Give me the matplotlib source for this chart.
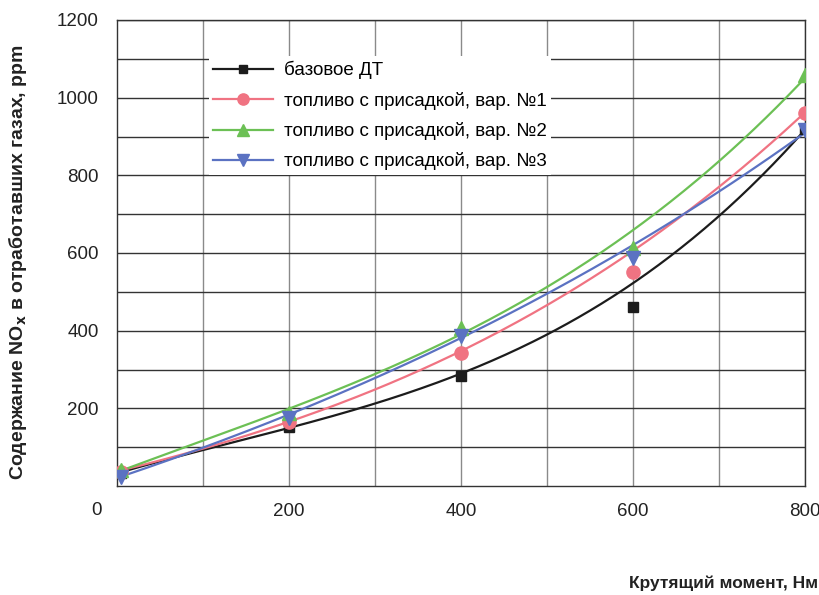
import numpy as np
import matplotlib.pyplot as plt

plt.rcParams['font.family'] = ['Liberation Sans Narrow', 'Liberation Sans', 'DejaVu Sans']

# measured points
torque = [5, 200, 400, 600, 800]
nox_base = [33, 152, 282, 461, 920]
nox_v1 = [35, 165, 343, 550, 961]
nox_v2 = [42, 187, 406, 612, 1058]
nox_v3 = [22, 175, 385, 588, 916]

# trend curves
trend_x = [5, 100, 200, 300, 400, 500, 600, 700, 800]
trend_base = [38, 87, 152, 216, 288, 390, 518, 700, 916]
trend_v1 = [40, 96, 165, 253, 348, 463, 592, 790, 955]
trend_v2 = [45, 109, 193, 296, 397, 514, 648, 839, 1052]
trend_v3 = [27, 98, 173, 288, 382, 500, 613, 757, 912]

labels = ['базовое ДТ',
          'топливо с присадкой, вар. №1',
          'топливо с присадкой, вар. №2',
          'топливо с присадкой, вар. №3']
series = [nox_base, nox_v1, nox_v2, nox_v3]
trends = [trend_base, trend_v1, trend_v2, trend_v3]
colors = ['#1c1c1c', '#f07382', '#6cc055', '#5b72c2']
markers = ['s', 'o', '^', 'v']
msizes = [7.5, 9.5, 9.5, 9.5]

fig = plt.figure(figsize=(8.2, 5.95), dpi=100)
ax = fig.add_axes([117/820, 1 - 486/595, (805 - 117)/820, (486 - 20)/595])

xs = np.linspace(trend_x[0], trend_x[-1], 300)
handles = []
for y, t, c, m, ms, lab in zip(series, trends, colors, markers, msizes, labels):
    p = np.polyfit(trend_x, t, 3)
    ax.plot(xs, np.polyval(p, xs), color=c, lw=1.6, zorder=3)
    ax.plot(torque, y, ls='none', marker=m, ms=ms, color=c, zorder=4)
    h, = ax.plot([], [], color=c, lw=1.6, marker=m, ms=ms * 0.85)
    handles.append(h)

ax.set_xlim(0, 800)
ax.set_ylim(0, 1200)
ax.set_xticks([200, 400, 600, 800])
ax.set_yticks([200, 400, 600, 800, 1000, 1200])
ax.set_xticks(np.arange(100, 800, 100), minor=True)
ax.set_yticks(np.arange(100, 1200, 100), minor=True)
ax.grid(axis='y', which='both', color='#333333', lw=1)
ax.grid(axis='x', which='both', color='#8a8a8a', lw=1)
ax.tick_params(which='both', length=0, labelsize=13.5, colors='#222222')
ax.tick_params(axis='x', pad=12)
ax.tick_params(axis='y', pad=13)
for s in ax.spines.values():
    s.set_color('#333333')
    s.set_linewidth(1)
ax.set_axisbelow(True)

ax.text(-24, -62, '0', ha='center', va='center', fontsize=13.5, color='#222222',
        transform=ax.transData)

leg = ax.legend(handles, labels, loc='upper left', bbox_to_anchor=(0.133, 0.922),
                frameon=True, fancybox=False, edgecolor='none', facecolor='white',
                framealpha=1, fontsize=13.5, handlelength=3.2, borderpad=0.25,
                labelspacing=0.66, handletextpad=0.55, borderaxespad=0)
leg.set_zorder(5)

fig.text(18/820, 1 - 262/595, 'Содержание NO$_\\mathbf{x}$ в отработавших газах, ppm',
         rotation=90, ha='center', va='center', fontsize=14, fontweight='bold',
         color='#222222')
fig.text(818/820, 1 - 583/595, 'Крутящий момент, Нм', ha='right', va='center',
         fontsize=12.5, fontweight='bold', color='#222222')

fig.savefig('out.png', dpi=100)
